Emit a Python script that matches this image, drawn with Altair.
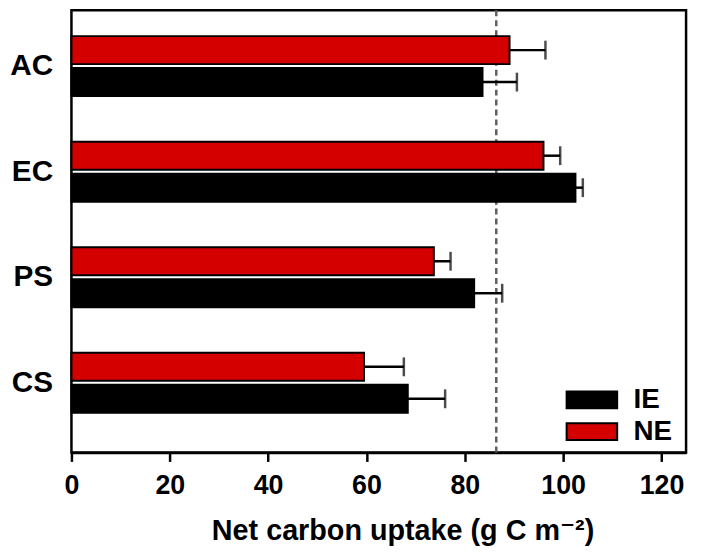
import altair as alt
import pandas as pd

categories = ["AC", "EC", "PS", "CS"]
ie_values = [83.6, 102.5, 81.9, 68.4]
ie_errors = [7.0, 1.5, 5.7, 7.6]
ne_values = [89.1, 96.0, 73.7, 59.5]
ne_errors = [7.3, 3.4, 3.4, 8.1]
groups = ["IE", "NE"]
reference_line = [86.4]

rows = []
for i, c in enumerate(categories):
    rows.append({"cat": c, "group": "IE", "value": ie_values[i], "upper": ie_values[i] + ie_errors[i]})
    rows.append({"cat": c, "group": "NE", "value": ne_values[i], "upper": ne_values[i] + ne_errors[i]})
df = pd.DataFrame(rows)
ref = pd.DataFrame({"x": reference_line})

FONT = "Liberation Sans, Arial, DejaVu Sans"

y_enc = alt.Y("cat:N", sort=categories,
              scale=alt.Scale(paddingInner=0.432, paddingOuter=0.31, align=0.394),
              axis=alt.Axis(title=None, ticks=False, tickSize=0, domain=False,
                            labelFontSize=30, labelFont=FONT, labelFontWeight="bold",
                            labelColor="black", labelPadding=19))
yoff = alt.YOffset("group:N", sort=["NE", "IE"],
                   scale=alt.Scale(paddingInner=0.124, paddingOuter=0))
x_scale = alt.Scale(domain=[0, 125], nice=False, zero=True)

bars = alt.Chart(df).mark_bar(stroke="black", strokeWidth=2).encode(
    x=alt.X("value:Q", scale=x_scale,
            axis=alt.Axis(values=[0, 20, 40, 60, 80, 100, 120], grid=False,
                          title="Net carbon uptake (g C m⁻²)",
                          titleFontSize=29, titleFont=FONT, titleFontWeight="bold",
                          titleColor="black", titleX=334, titleY=88,
                          titleBaseline="alphabetic",
                          labelFontSize=27, labelFont=FONT, labelFontWeight="bold",
                          labelColor="black", labelPadding=11,
                          tickSize=9, tickWidth=2.5, tickColor="black",
                          domainColor="black", domainWidth=2.5, labelFlush=False)),
    y=y_enc,
    yOffset=yoff,
    color=alt.Color("group:N", scale=alt.Scale(domain=groups, range=["#000000", "#d40000"]),
                    legend=alt.Legend(title=None, orient="none", legendX=507, legendY=375,
                                      symbolType="M-1.5,-0.5H1.5V0.5H-1.5Z", symbolSize=1156,
                                      symbolStrokeColor="black", symbolStrokeWidth=2,
                                      labelFontSize=28, labelFont=FONT, labelFontWeight="bold",
                                      labelColor="black", labelOffset=24, rowPadding=-2,
                                      padding=0, symbolOpacity=1)),
)

err = alt.Chart(df).mark_rule(color="black", strokeWidth=2.5).encode(
    x=alt.X("value:Q", scale=x_scale),
    x2="upper:Q",
    y=alt.Y("cat:N", sort=categories),
    yOffset=alt.YOffset("group:N", sort=["NE", "IE"]),
)

caps = alt.Chart(df).mark_tick(color="black", thickness=2.5, size=19).encode(
    x=alt.X("upper:Q", scale=x_scale),
    y=alt.Y("cat:N", sort=categories),
    yOffset=alt.YOffset("group:N", sort=["NE", "IE"]),
)

dash = alt.Chart(ref).mark_rule(color="#5f5f5f", strokeWidth=2.5, strokeDash=[6, 4]).encode(
    x=alt.X("x:Q", scale=x_scale)
)

chart = alt.layer(dash, bars, err, caps).properties(
    width=620, height=446,
    autosize=alt.AutoSizeParams(type="none"),
    padding={"left": 64, "top": 0, "right": 8, "bottom": 92},
).configure(background="white").configure_view(stroke="black", strokeWidth=2.5)

chart.save("out.html", embed_options={"renderer": "svg", "actions": False})
